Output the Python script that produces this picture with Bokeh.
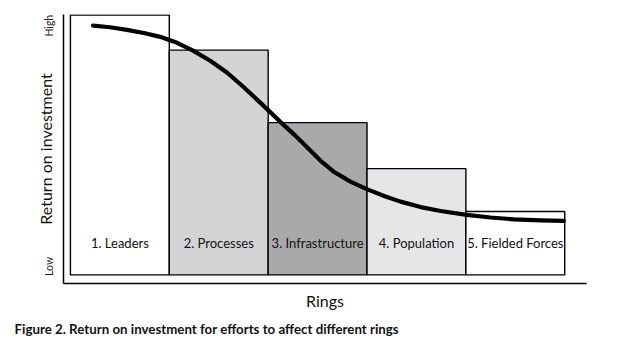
from bokeh.plotting import figure
from bokeh.models import Range1d, FixedTicker, Title, ColumnDataSource
from bokeh.core.properties import value
from bokeh.embed import file_html
from bokeh.resources import INLINE

# ---- data ----
rings = ["1. Leaders", "2. Processes", "3. Infrastructure", "4. Population", "5. Fielded Forces"]
ring_pos = [1, 2, 3, 4, 5]
bar_roi = [100, 86.5, 58.6, 40.9, 24.4]
bar_colors = ["#ffffff", "#d4d4d6", "#a9a9ab", "#e6e6e8", "#ffffff"]

curve_x = [0.728, 0.900, 1.072, 1.255, 1.407, 1.579, 1.741, 1.914, 2.086, 2.248,
           2.420, 2.623, 2.775, 2.896, 3.028, 3.160, 3.332, 3.504, 3.687, 3.839,
           4.042, 4.245, 4.508, 4.750, 4.983, 5.256, 5.490]
curve_roi = [95.9, 95.3, 94.3, 93.0, 91.6, 89.3, 86.3, 82.4, 77.8, 72.4,
             66.3, 58.9, 53.6, 49.0, 44.0, 39.8, 35.9, 32.9, 30.2, 28.2,
             26.1, 24.6, 23.1, 22.1, 21.4, 21.0, 20.8]

label_roi = 12.1
y_tick_pos = [3.3, 95.9]
y_tick_text = ["Low", "High"]

FONT = "Lato"

p = figure(width=608, height=344, output_backend="svg", toolbar_location=None,
           x_range=Range1d(0.43, 5.72), y_range=Range1d(-3.3, 100.2),
           min_border_left=63, min_border_right=22, min_border_top=14, min_border_bottom=61)
p.outline_line_color = None
p.xgrid.visible = False
p.ygrid.visible = False

bars = ColumnDataSource(dict(x=ring_pos, top=bar_roi, color=bar_colors))
p.vbar(x="x", top="top", bottom=0, width=1, fill_color="color", line_color="black",
       line_width=1.4, source=bars)

p.line(curve_x, curve_roi, line_color="black", line_width=4.2, line_cap="round", line_join="round")

labels = ColumnDataSource(dict(x=ring_pos, y=[label_roi] * len(ring_pos), text=rings))
p.text(x="x", y="y", text="text", source=labels, text_font=value(FONT), text_font_size="13px",
       text_align="center", text_baseline="middle", text_color="#111111")

# y axis
ya = p.yaxis[0]
ya.ticker = FixedTicker(ticks=y_tick_pos)
ya.major_label_overrides = {y_tick_pos[i]: y_tick_text[i] for i in range(len(y_tick_pos))}
ya.major_label_orientation = "vertical"
ya.major_label_text_font = FONT
ya.major_label_text_font_size = "10.5px"
ya.major_label_text_color = "#222222"
ya.major_label_standoff = 2
ya.major_tick_line_color = None
ya.minor_tick_line_color = None
ya.axis_line_color = "black"
ya.axis_line_width = 1.5
ya.axis_label = "Return on investment"
ya.axis_label_text_font = FONT
ya.axis_label_text_font_style = "normal"
ya.axis_label_text_font_size = "16px"
ya.axis_label_text_color = "#111111"
ya.axis_label_standoff = -14

# x axis
xa = p.xaxis[0]
xa.ticker = FixedTicker(ticks=[])
xa.major_tick_line_color = None
xa.minor_tick_line_color = None
xa.major_label_text_font_size = "0px"
xa.axis_line_color = "black"
xa.axis_line_width = 1.5
xa.axis_label = "Rings"
xa.axis_label_text_font = FONT
xa.axis_label_text_font_style = "normal"
xa.axis_label_text_font_size = "16px"
xa.axis_label_text_color = "#111111"
xa.axis_label_standoff = 7

cap = Title(text="Figure 2. Return on investment for efforts to affect different rings",
            align="left", offset=-49, text_font=FONT, text_font_style="bold",
            text_font_size="13.3px", text_color="#111111", standoff=12)
p.add_layout(cap, "below")

open("out.html", "w").write(file_html(p, INLINE))
